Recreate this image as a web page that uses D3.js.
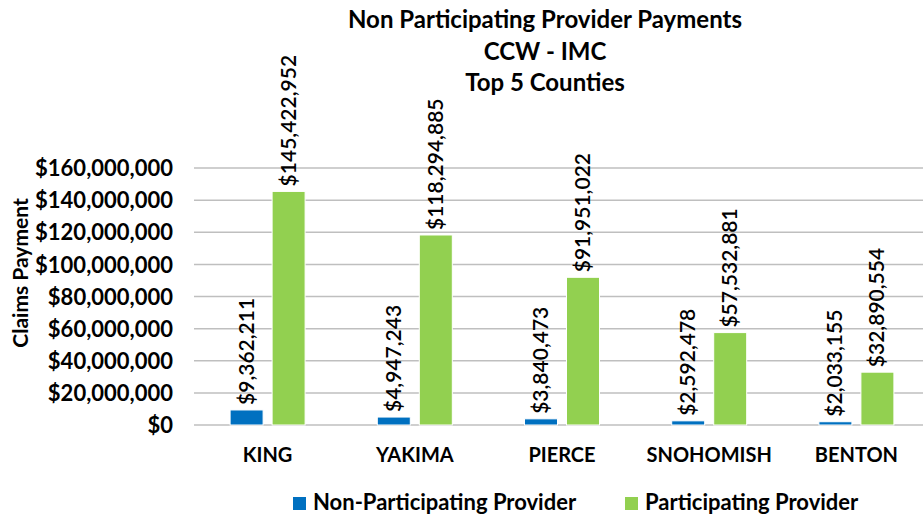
<!DOCTYPE html>
<html>
<head>
<meta charset="utf-8">
<script src="https://cdn.jsdelivr.net/npm/d3@7"></script>
<style>
  body { margin: 0; background: #fff; }
  text { font-family: Lato, "Open Sans", sans-serif; fill: #000; }
</style>
</head>
<body>
<div id="chart"></div>
<script>
const counties = ['KING', 'YAKIMA', 'PIERCE', 'SNOHOMISH', 'BENTON'];
const nonParticipating = [9362211, 4947243, 3840473, 2592478, 2033155];
const participating = [145422952, 118294885, 91951022, 57532881, 32890554];
const seriesNames = ['Non-Participating Provider', 'Participating Provider'];
const seriesColors = ['#0070c0', '#92d050'];
const yTicks = [0, 20e6, 40e6, 60e6, 80e6, 100e6, 120e6, 140e6, 160e6];
const titleLines = ['Non Participating Provider Payments', 'CCW - IMC', 'Top 5 Counties'];

const width = 923, height = 517;
const plot = { left: 194, right: 930, top: 168, bottom: 425 };

const svg = d3.select('#chart').append('svg')
  .attr('width', width)
  .attr('height', height);

const x = d3.scaleBand().domain(counties).range([plot.left, plot.right]);
const y = d3.scaleLinear().domain([0, 160e6]).range([plot.bottom, plot.top]);
const fmt = d3.format('$,');

// gridlines
svg.append('g')
  .selectAll('line')
  .data(yTicks)
  .join('line')
  .attr('x1', plot.left)
  .attr('x2', plot.right)
  .attr('y1', d => y(d))
  .attr('y2', d => y(d))
  .attr('stroke', '#bfbfbf')
  .attr('stroke-width', 1.5);

// y axis labels
const yAxis = svg.append('g')
  .attr('transform', `translate(${plot.left - 21},0)`)
  .call(d3.axisLeft(y).tickValues(yTicks).tickFormat(d3.format('$,')).tickSize(0).tickPadding(0));
yAxis.select('.domain').remove();
yAxis.selectAll('text')
  .attr('font-size', 22)
  .attr('font-weight', 'bold')
  .attr('dy', '0.35em')
  .style('font-family', 'Lato, sans-serif');

svg.append('text')
  .attr('transform', `translate(28,273) rotate(-90)`)
  .attr('text-anchor', 'middle')
  .attr('font-size', 21)
  .attr('font-weight', 'bold')
  .text('Claims Payment');

// x axis labels
svg.append('g')
  .selectAll('text')
  .data(counties)
  .join('text')
  .attr('x', d => x(d) + x.bandwidth() / 2)
  .attr('y', 462)
  .attr('text-anchor', 'middle')
  .attr('font-size', 20)
  .attr('font-weight', 'bold')
  .text(d => d);

// bars
const barW = 33, gap = 9;
const series = [nonParticipating, participating];
series.forEach((vals, s) => {
  const offset = s === 0 ? -gap / 2 - barW : gap / 2;
  const g = svg.append('g');
  g.selectAll('rect')
    .data(vals)
    .join('rect')
    .attr('x', (d, i) => x(counties[i]) + x.bandwidth() / 2 + offset)
    .attr('y', d => y(d))
    .attr('width', barW)
    .attr('height', d => plot.bottom - y(d))
    .attr('fill', seriesColors[s])
    .attr('stroke', '#fff')
    .attr('stroke-width', 1);
  g.selectAll('text')
    .data(vals)
    .join('text')
    .attr('transform', (d, i) => {
      const cx = x(counties[i]) + x.bandwidth() / 2 + offset + barW / 2 + 7;
      return `translate(${cx},${y(d) - 5}) rotate(-90)`;
    })
    .attr('font-size', 21)
    .attr('font-weight', 600)
    .text(d => fmt(d));
});

// title
svg.append('g')
  .selectAll('text')
  .data(titleLines)
  .join('text')
  .attr('x', 545)
  .attr('y', (d, i) => 28 + i * 31.5)
  .attr('text-anchor', 'middle')
  .attr('font-size', 24)
  .attr('font-weight', 'bold')
  .text(d => d);

// legend
const legendX = [293, 625];
const legend = svg.append('g')
  .selectAll('g')
  .data(seriesNames)
  .join('g')
  .attr('transform', (d, i) => `translate(${legendX[i]},0)`);
legend.append('rect')
  .attr('x', 0)
  .attr('y', 497)
  .attr('width', 13)
  .attr('height', 13)
  .attr('fill', (d, i) => seriesColors[i]);
legend.append('text')
  .attr('x', 20)
  .attr('y', 510)
  .attr('font-size', 22)
  .attr('font-weight', 'bold')
  .text(d => d);
</script>
</body>
</html>
